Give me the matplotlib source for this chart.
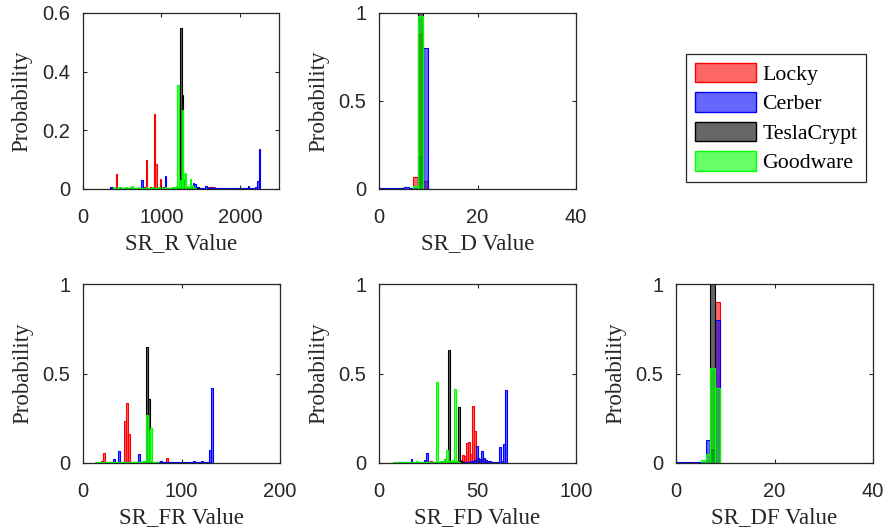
import matplotlib
matplotlib.use("Agg")
import matplotlib.pyplot as plt
import numpy as np
from matplotlib.colors import to_rgba
from matplotlib.patches import Patch
from matplotlib.ticker import FormatStrFormatter

plt.rcParams["font.family"] = ["Liberation Sans", "DejaVu Sans"]

# -- Data: histogram bin probabilities (left edge of first bin + heights) ------
classes = ["Locky", "Cerber", "TeslaCrypt", "Goodware"]
colors = ["#FF0000", "#0000FF", "#000000", "#00FF00"]

# SR_R, bin width 20
locky_r_start = 420
locky_r = [0.05, 0.004, 0.003, 0.004, 0.003, 0.005, 0.004, 0.003, 0.004, 0.006,
           0.004, 0.003, 0.005, 0.004, 0.004, 0.003, 0.005, 0.004, 0.006, 0.098,
           0.005, 0.004, 0.006, 0.004, 0.255, 0.085, 0.005, 0.004, 0.035, 0.004,
           0.006, 0.003, 0.004, 0.003, 0.005, 0.004, 0.003, 0.004, 0.005, 0.003,
           0.004, 0.003, 0.004, 0.003, 0.002, 0.003, 0.002, 0.003, 0.002, 0.002,
           0.003, 0.002, 0.002, 0.001, 0.002, 0.001, 0.002, 0.001, 0.002, 0.008,
           0.002, 0.001, 0.006, 0.002]
cerber_r_start = 340
cerber_r = [0.008, 0.006, 0.003, 0.004, 0.003, 0.003, 0.006, 0.003, 0.002, 0.003,
            0.002, 0.003, 0.004, 0.002, 0.003, 0.002, 0.003, 0.004, 0.003, 0.005,
            0.032, 0.004, 0.003, 0.002, 0.003, 0.004, 0.002, 0.003, 0.002, 0.003,
            0.004, 0.002, 0.003, 0.002, 0.005, 0.044, 0.004, 0.003, 0.002, 0.003,
            0.002, 0.003, 0.002, 0.003, 0.002, 0.003, 0.002, 0.003, 0.002, 0.003,
            0.004, 0.005, 0.008, 0.019, 0.016, 0.008, 0.006, 0.005, 0.004, 0.005,
            0.004, 0.011, 0.005, 0.004, 0.008, 0.004, 0.003, 0.004, 0.003, 0.004,
            0.003, 0.004, 0.003, 0.004, 0.003, 0.004, 0.003, 0.004, 0.003, 0.004,
            0.003, 0.004, 0.003, 0.005, 0.003, 0.004, 0.003, 0.004, 0.009, 0.004,
            0.003, 0.004, 0.005, 0.006, 0.027, 0.135]
tesla_r_start = 1180
tesla_r = [0.002, 0.003, 0.004, 0.55, 0.32, 0.03, 0.004, 0.003, 0.002, 0.003,
           0.002, 0.003, 0.002, 0.003, 0.004]
good_r_start = 380
good_r = [0.006, 0.005, 0.004, 0.005, 0.006, 0.005, 0.004, 0.005, 0.006, 0.005,
          0.005, 0.006, 0.01, 0.005, 0.004, 0.005, 0.006, 0.005, 0.005, 0.004,
          0.005, 0.006, 0.005, 0.004, 0.005, 0.006, 0.005, 0.004, 0.005, 0.006,
          0.005, 0.004, 0.005, 0.006, 0.005, 0.005, 0.004, 0.005, 0.006, 0.008,
          0.01, 0.355, 0.012, 0.03, 0.27, 0.05, 0.056, 0.01, 0.008, 0.033,
          0.012, 0.006, 0.004]

# SR_D, bin width 1
locky_d_start = 7
locky_d = [0.07, 0.88, 0.045]
cerber_d_start = 0
cerber_d = [0.003, 0.003, 0.003, 0.003, 0.003, 0.01, 0.004, 0.005, 0.19, 0.8]
tesla_d_start = 8
tesla_d = [1.0]
good_d_start = 7
good_d = [0.015, 0.985]

# SR_FR, bin width 2
locky_fr_start = 14
locky_fr = [0.003, 0.004, 0.012, 0.054, 0.006, 0.004, 0.003, 0.004, 0.003, 0.004,
            0.003, 0.004, 0.005, 0.008, 0.235, 0.333, 0.162, 0.008, 0.006, 0.004,
            0.003, 0.004, 0.003, 0.002, 0.003, 0.002, 0.003, 0.002, 0.003, 0.002,
            0.003, 0.002, 0.003, 0.004, 0.005, 0.03, 0.004, 0.002]
cerber_fr_start = 18
cerber_fr = [0.003, 0.004, 0.003, 0.004, 0.003, 0.004, 0.02, 0.004, 0.005, 0.067,
             0.004, 0.003, 0.004, 0.003, 0.004, 0.005, 0.004, 0.003, 0.006, 0.05,
             0.005, 0.004, 0.003, 0.004, 0.003, 0.004, 0.003, 0.004, 0.005, 0.006,
             0.012, 0.005, 0.004, 0.006, 0.005, 0.004, 0.008, 0.004, 0.005, 0.003,
             0.004, 0.003, 0.004, 0.003, 0.004, 0.003, 0.004, 0.012, 0.004, 0.003,
             0.004, 0.012, 0.004, 0.005, 0.007, 0.075, 0.417]
tesla_fr_start = 60
tesla_fr = [0.002, 0.004, 0.65, 0.355, 0.004, 0.002, 0.0, 0.0, 0.0, 0.0,
            0.0, 0.0, 0.0, 0.0, 0.0, 0.0, 0.0, 0.0, 0.0, 0.0, 0.005]
good_fr_start = 12
good_fr = [0.006, 0.005, 0.006, 0.005, 0.004, 0.005, 0.006, 0.005, 0.004, 0.005,
           0.006, 0.005, 0.004, 0.005, 0.006, 0.005, 0.004, 0.005, 0.006, 0.005,
           0.004, 0.005, 0.006, 0.005, 0.012, 0.01, 0.27, 0.18, 0.195, 0.008,
           0.005, 0.003]

# SR_FD, bin width 1
locky_fd_start = 24
locky_fd = [0.003, 0.006, 0.01, 0.005, 0.004, 0.006, 0.007, 0.005, 0.012, 0.006,
            0.005, 0.004, 0.006, 0.005, 0.004, 0.008, 0.01, 0.015, 0.045, 0.04,
            0.114, 0.12, 0.05, 0.32, 0.18, 0.03, 0.03, 0.025, 0.02, 0.022,
            0.008, 0.004]
cerber_fd_start = 8
cerber_fd = [0.003, 0.004, 0.003, 0.004, 0.005, 0.006, 0.004, 0.005, 0.02, 0.004,
             0.003, 0.004, 0.003, 0.006, 0.004, 0.015, 0.056, 0.005, 0.004, 0.003,
             0.004, 0.003, 0.004, 0.003, 0.004, 0.005, 0.004, 0.006, 0.004, 0.005,
             0.004, 0.005, 0.004, 0.006, 0.005, 0.006, 0.008, 0.006, 0.01, 0.012,
             0.015, 0.095, 0.03, 0.02, 0.065, 0.03, 0.015, 0.012, 0.01, 0.008,
             0.005, 0.004, 0.006, 0.091, 0.01, 0.105, 0.408]
tesla_fd_start = 32
tesla_fd = [0.004, 0.02, 0.006, 0.63, 0.005, 0.004, 0.006, 0.005, 0.315, 0.012,
            0.004]
good_fd_start = 7
good_fd = [0.008, 0.005, 0.006, 0.004, 0.005, 0.006, 0.004, 0.005, 0.006, 0.005,
           0.004, 0.006, 0.012, 0.008, 0.006, 0.005, 0.007, 0.006, 0.005, 0.008,
           0.006, 0.005, 0.454, 0.006, 0.012, 0.01, 0.02, 0.073, 0.012, 0.01,
           0.015, 0.413, 0.01, 0.005]

# SR_DF, bin width 1
locky_df_start = 6
locky_df = [0.01, 0.07, 0.9]
cerber_df_start = 0
cerber_df = [0.004, 0.003, 0.004, 0.005, 0.003, 0.006, 0.128, 0.08, 0.8]
tesla_df_start = 7
tesla_df = [1.0]
good_df_start = 5
good_df = [0.016, 0.052, 0.53, 0.42]

panels = [
    # (label, bin width, xlim, xticks, ylim, yticks, series)
    ("SR_R Value", 20, (0, 2500), [0, 1000, 2000], (0, 0.6), [0, 0.2, 0.4, 0.6],
     [(locky_r_start, locky_r), (cerber_r_start, cerber_r),
      (tesla_r_start, tesla_r), (good_r_start, good_r)]),
    ("SR_D Value", 1, (0, 40), [0, 20, 40], (0, 1), [0, 0.5, 1],
     [(locky_d_start, locky_d), (cerber_d_start, cerber_d),
      (tesla_d_start, tesla_d), (good_d_start, good_d)]),
    ("SR_FR Value", 2, (0, 200), [0, 100, 200], (0, 1), [0, 0.5, 1],
     [(locky_fr_start, locky_fr), (cerber_fr_start, cerber_fr),
      (tesla_fr_start, tesla_fr), (good_fr_start, good_fr)]),
    ("SR_FD Value", 1, (0, 100), [0, 50, 100], (0, 1), [0, 0.5, 1],
     [(locky_fd_start, locky_fd), (cerber_fd_start, cerber_fd),
      (tesla_fd_start, tesla_fd), (good_fd_start, good_fd)]),
    ("SR_DF Value", 1, (0, 40), [0, 20, 40], (0, 1), [0, 0.5, 1],
     [(locky_df_start, locky_df), (cerber_df_start, cerber_df),
      (tesla_df_start, tesla_df), (good_df_start, good_df)]),
]

# axes rectangles in figure pixels: (left, top, right, bottom)
W_PX, H_PX = 884, 531
boxes = [(83, 13, 279, 189), (379, 13, 576, 189),
         (83, 284, 280, 463), (379, 284, 576, 463), (676, 284, 873, 463)]

AX_COLOR = "#262626"
SERIF = ["Liberation Serif", "DejaVu Serif"]

fig = plt.figure(figsize=(W_PX / 100, H_PX / 100), dpi=100)

for (label, bw, xlim, xticks, ylim, yticks, series), (l, t, r, b) in zip(panels, boxes):
    ax = fig.add_axes([l / W_PX, 1 - b / H_PX, (r - l) / W_PX, (b - t) / H_PX])
    for (start, heights), c in zip(series, colors):
        h = np.array(heights)
        x = start + bw * np.arange(len(h))
        keep = h > 0
        ax.bar(x[keep], h[keep], width=bw, align="edge",
               facecolor=to_rgba(c, 0.6), edgecolor=c, linewidth=0.8)
    ax.set_xlim(*xlim)
    ax.set_ylim(*ylim)
    ax.set_xticks(xticks)
    ax.set_yticks(yticks)
    ax.yaxis.set_major_formatter(FormatStrFormatter("%g"))
    ax.tick_params(direction="in", top=True, right=True, length=3, width=0.8,
                   labelsize=14.5, colors=AX_COLOR)
    ax.tick_params(axis="x", pad=14)
    ax.tick_params(axis="y", pad=9)
    for s in ax.spines.values():
        s.set_color(AX_COLOR)
        s.set_linewidth(0.9)
    ax.set_xlabel(label, fontsize=16.5, family=SERIF, color=AX_COLOR, labelpad=4)
    ax.set_ylabel("Probability", fontsize=16.5, family=SERIF, color=AX_COLOR,
                  labelpad=7)

handles = [Patch(facecolor=to_rgba(c, 0.6), edgecolor=c, linewidth=1.0, label=n)
           for n, c in zip(classes, colors)]
leg = fig.legend(handles=handles, loc="upper left",
                 bbox_to_anchor=(686 / W_PX, 1 - 54 / H_PX),
                 prop={"family": SERIF, "size": 15.7}, fancybox=False,
                 edgecolor=AX_COLOR, framealpha=1, handlelength=2.8,
                 handleheight=1.0, labelspacing=0.33, borderpad=0.4,
                 handletextpad=0.3, borderaxespad=0)
leg.get_frame().set_linewidth(0.9)

fig.savefig("out.png", dpi=100)
